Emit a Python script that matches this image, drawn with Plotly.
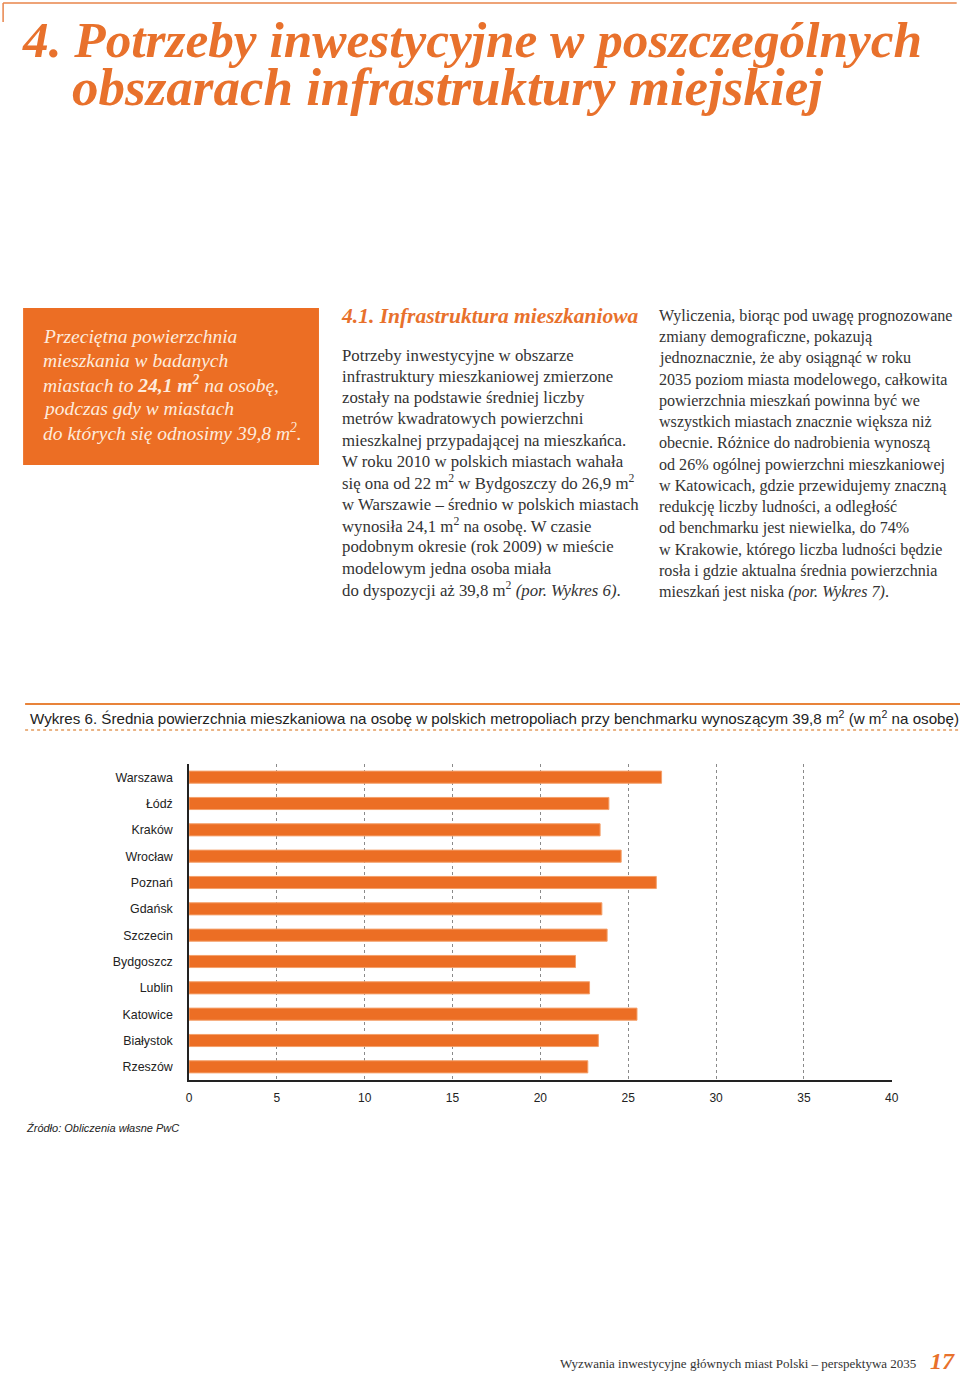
import plotly.graph_objects as go

# ---------------- data ----------------
cities = ["Warszawa", "Łódź", "Kraków", "Wrocław", "Poznań", "Gdańsk",
          "Szczecin", "Bydgoszcz", "Lublin", "Katowice", "Białystok", "Rzeszów"]
area_per_person = [26.9, 23.9, 23.4, 24.6, 26.6, 23.5, 23.8, 22.0, 22.8, 25.5, 23.3, 22.7]
x_ticks = [0, 5, 10, 15, 20, 25, 30, 35, 40]

title_lines = ["4. Potrzeby inwestycyjne w poszczególnych",
               "obszarach infrastruktury miejskiej"]
box_lines = ["Przeciętna powierzchnia",
             "mieszkania w badanych",
             "miastach to <b>24,1 m<sup>2</sup></b> na osobę,",
             "podczas gdy w miastach",
             "do których się odnosimy 39,8 m<sup>2</sup>."]
section_heading = "4.1. Infrastruktura mieszkaniowa"
col2_lines = ["Potrzeby inwestycyjne w obszarze",
              "infrastruktury mieszkaniowej zmierzone",
              "zostały na podstawie średniej liczby",
              "metrów kwadratowych powierzchni",
              "mieszkalnej przypadającej na mieszkańca.",
              "W roku 2010 w polskich miastach wahała",
              "się ona od 22 m<sup>2</sup> w Bydgoszczy do 26,9 m<sup>2</sup>",
              "w Warszawie – średnio w polskich miastach",
              "wynosiła 24,1 m<sup>2</sup> na osobę. W czasie",
              "podobnym okresie (rok 2009) w mieście",
              "modelowym jedna osoba miała",
              "do dyspozycji aż 39,8 m<sup>2</sup> <i>(por. Wykres 6)</i>."]
col3_lines = ["Wyliczenia, biorąc pod uwagę prognozowane",
              "zmiany demograficzne, pokazują",
              "jednoznacznie, że aby osiągnąć w roku",
              "2035 poziom miasta modelowego, całkowita",
              "powierzchnia mieszkań powinna być we",
              "wszystkich miastach znacznie większa niż",
              "obecnie. Różnice do nadrobienia wynoszą",
              "od 26% ogólnej powierzchni mieszkaniowej",
              "w Katowicach, gdzie przewidujemy znaczną",
              "redukcję liczby ludności, a odległość",
              "od benchmarku jest niewielka, do 74%",
              "w Krakowie, którego liczba ludności będzie",
              "rosła i gdzie aktualna średnia powierzchnia",
              "mieszkań jest niska <i>(por. Wykres 7)</i>."]
chart_title = ("Wykres 6. Średnia powierzchnia mieszkaniowa na osobę w polskich metropoliach "
               "przy benchmarku wynoszącym 39,8 m<sup>2</sup> (w m<sup>2</sup> na osobę)")
source_text = "Źródło: Obliczenia własne PwC"
footer_text = "Wyzwania inwestycyjne głównych miast Polski – perspektywa 2035"
page_number = "17"

# ---------------- style ----------------
W, H = 960, 1375
ORANGE = "#EC6E24"
TITLE_ORANGE = "#E8712C"
TEXT = "#333333"
SERIF = "Liberation Serif"
SANS = "Liberation Sans"


def px(x):
    # slight horizontal compensation observed in the rendered page
    return ((x - 2.9) / 0.99) / W


def py(y):
    return 1 - y / H


annotations = []


def ann(x, y, text, size, color=TEXT, family=SERIF, xanchor="left"):
    annotations.append(dict(x=px(x), y=py(y), xref="paper", yref="paper", text=text,
                            showarrow=False, xanchor=xanchor, yanchor="middle",
                            font=dict(size=size, color=color, family=family)))


# title
ann(20, 39, "<b><i>" + title_lines[0] + "</i></b>", 51.3, TITLE_ORANGE)
ann(70, 87, "<b><i>" + title_lines[1] + "</i></b>", 53, TITLE_ORANGE)

# orange box text
for i, t in enumerate(box_lines):
    ann(41, 337 + i * 23.7, "<i>" + t + "</i>", 19.5, "#FDEBDD")

# column 2
ann(339, 316, "<b><i>" + section_heading + "</i></b>", 21.5, TITLE_ORANGE)
for i, t in enumerate(col2_lines):
    ann(340, 355 + i * 21.3, t, 16.8)

# column 3
for i, t in enumerate(col3_lines):
    ann(657, 316 + i * 21.23, t, 16.1)

# chart title, source, footer
ann(28, 717, chart_title, 15.15, "#222222", SANS)
ann(24, 1128, "<i>" + source_text + "</i>", 11, "#222222", SANS)
ann(558, 1363, footer_text, 13)
ann(957, 1361, "<b><i>" + page_number + "</i></b>", 24, TITLE_ORANGE, xanchor="right")

shapes = [
    # page frame corner
    dict(type="line", xref="paper", yref="paper", x0=px(3), x1=px(957), y0=py(3), y1=py(3),
         line=dict(color="#E8844A", width=1.5)),
    dict(type="line", xref="paper", yref="paper", x0=px(3), x1=px(3), y0=py(3), y1=py(22),
         line=dict(color="#E8844A", width=1.5)),
    # orange callout box
    dict(type="rect", xref="paper", yref="paper", x0=px(23), x1=px(319), y0=py(308), y1=py(465),
         fillcolor=ORANGE, line=dict(width=0), layer="below"),
    # chart header rules
    dict(type="line", xref="paper", yref="paper", x0=px(25), x1=px(962), y0=py(704), y1=py(704),
         line=dict(color="#E8833A", width=2)),
    dict(type="line", xref="paper", yref="paper", x0=px(25), x1=px(962), y0=py(730), y1=py(730),
         line=dict(color="#E39A5C", width=1.5, dash="dot")),
]

fig = go.Figure()
fig.add_trace(go.Bar(
    x=area_per_person, y=cities, orientation="h",
    marker=dict(color=ORANGE, line=dict(color="#F4A06A", width=1)),
    hoverinfo="x+y",
))

fig.update_layout(
    width=W, height=H, autosize=False,
    margin=dict(l=0, r=0, t=0, b=0, pad=0),
    paper_bgcolor="white", plot_bgcolor="white",
    showlegend=False,
    bargap=0.54,
    annotations=annotations,
    shapes=shapes,
    xaxis=dict(domain=[px(189), px(892)], range=[0, 40], tickvals=x_ticks,
               showgrid=True, gridcolor="#8a8a8a", gridwidth=1, griddash="dot",
               zeroline=False, showline=True, linecolor="#222222", linewidth=1.5,
               ticks="", ticklabelstandoff=6,
               tickfont=dict(family=SANS, size=12, color="#222222"), fixedrange=True),
    yaxis=dict(domain=[py(1080), py(764)], autorange="reversed", type="category",
               showgrid=False, zeroline=False, showline=True, linecolor="#222222", linewidth=1.5,
               ticks="", ticklabelstandoff=12,
               tickfont=dict(family=SANS, size=12.4, color="#222222"), fixedrange=True),
)

fig.write_html("out.html",
               config={"responsive": False, "displayModeBar": False},
               post_script="document.body.style.margin='0';document.body.style.overflow='hidden';")
